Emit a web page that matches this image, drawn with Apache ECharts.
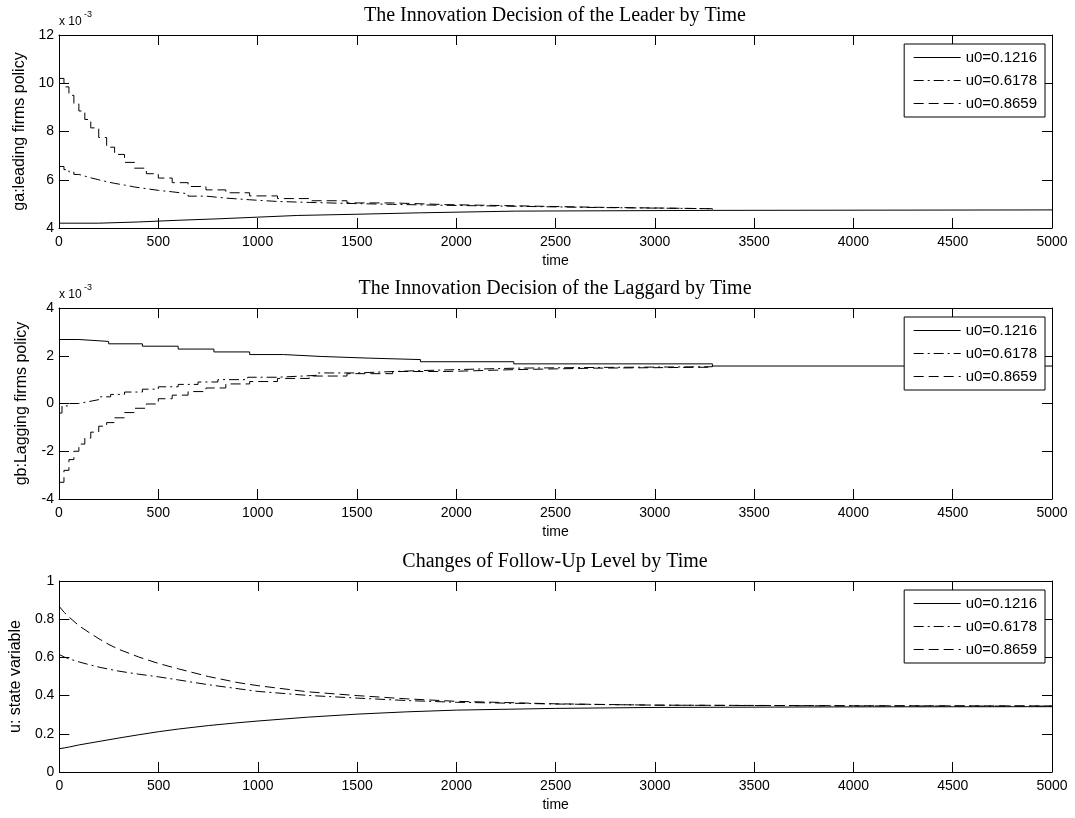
<!DOCTYPE html>
<html style="height: 100%">
  <head>
    <meta charset="utf-8" />
  </head>
  <body style="height: 100%; margin: 0; background: #fff">
    <div id="main" style="width: 1075px; height: 818px"></div>
    <script type="text/javascript" src="https://cdn.jsdelivr.net/npm/echarts@6/dist/echarts.min.js"></script>
    <script type="text/javascript">
      // legend names
      var names = ["u0=0.1216", "u0=0.6178", "u0=0.8659"];
      var titles = [
        "The Innovation Decision of the Leader by Time",
        "The Innovation Decision of the Laggard by Time",
        "Changes of Follow-Up Level by Time",
      ];
      var yNames = ["ga:leading firms policy", "gb:Lagging firms policy", "u: state variable"];

      // plot 1 : ga (x 10^-3)
      var gaT1 = [0, 200, 400, 600, 800, 1000, 1200, 1500, 1820, 2300, 3290, 5000];
      var gaV1 = [4.2, 4.25, 4.32, 4.38, 4.45, 4.52, 4.57, 4.63, 4.7, 4.73, 4.75, 4.75];
      var gaT2 = [0, 25, 50, 75, 100, 130, 160, 200, 240, 280, 330, 380, 440, 500, 570, 650, 740, 840, 960, 1100, 1260, 1450, 1680, 1950, 2300, 2700, 3290];
      var gaV2 = [6.55, 6.42, 6.32, 6.22, 6.15, 6.08, 6.0, 5.92, 5.85, 5.78, 5.7, 5.63, 5.56, 5.5, 5.42, 5.32, 5.24, 5.17, 5.1, 5.06, 5.02, 4.98, 4.94, 4.9, 4.85, 4.8, 4.76];
      var gaT3 = [0, 25, 50, 75, 100, 130, 160, 200, 240, 280, 330, 380, 440, 500, 570, 650, 740, 840, 960, 1100, 1260, 1450, 1680, 1950, 2300, 2700, 3290];
      var gaV3 = [10.2, 9.85, 9.5, 9.15, 8.85, 8.5, 8.15, 7.75, 7.35, 7.05, 6.72, 6.48, 6.25, 6.07, 5.88, 5.72, 5.58, 5.46, 5.33, 5.22, 5.13, 5.04, 4.97, 4.92, 4.86, 4.8, 4.76];

      // plot 2 : gb (x 10^-3)
      var gbT1 = [0, 100, 250, 420, 600, 780, 960, 1130, 1320, 1560, 1820, 2290, 3290, 5000];
      var gbV1 = [2.68, 2.6, 2.5, 2.4, 2.28, 2.16, 2.05, 1.97, 1.9, 1.84, 1.75, 1.66, 1.57, 1.57];
      var gbT2 = [0, 15, 50, 100, 150, 200, 260, 330, 420, 500, 600, 700, 800, 950, 1100, 1300, 1500, 1750, 2000, 2300, 2700, 3290];
      var gbV2 = [-0.4, -0.1, 0.0, 0.08, 0.16, 0.28, 0.38, 0.48, 0.6, 0.7, 0.8, 0.9, 1.0, 1.1, 1.18, 1.28, 1.36, 1.42, 1.48, 1.51, 1.54, 1.57];
      var gbT3 = [0, 25, 50, 75, 100, 130, 160, 200, 240, 280, 330, 380, 440, 500, 570, 650, 740, 840, 960, 1100, 1260, 1450, 1680, 1950, 2300, 2700, 3290];
      var gbV3 = [-3.3, -2.8, -2.35, -2.0, -1.7, -1.45, -1.2, -0.95, -0.8, -0.6, -0.38, -0.2, -0.02, 0.2, 0.35, 0.5, 0.65, 0.82, 0.92, 1.05, 1.15, 1.25, 1.34, 1.42, 1.48, 1.52, 1.57];

      // plot 3 : u
      var uT = [0, 25, 50, 100, 150, 200, 250, 300, 400, 500, 600, 750, 900, 1000, 1250, 1500, 1750, 2000, 2500, 3000, 4000, 5000];
      var uV1 = [0.122, 0.126, 0.131, 0.142, 0.151, 0.16, 0.169, 0.178, 0.195, 0.211, 0.225, 0.243, 0.258, 0.267, 0.287, 0.303, 0.315, 0.324, 0.333, 0.338, 0.341, 0.342];
      var uV2 = [0.615, 0.602, 0.592, 0.576, 0.562, 0.549, 0.538, 0.528, 0.512, 0.498, 0.482, 0.457, 0.436, 0.422, 0.401, 0.387, 0.374, 0.365, 0.356, 0.35, 0.346, 0.345];
      var uV3 = [0.866, 0.835, 0.81, 0.765, 0.73, 0.697, 0.667, 0.642, 0.602, 0.568, 0.54, 0.5, 0.468, 0.452, 0.42, 0.4, 0.383, 0.37, 0.357, 0.35, 0.347, 0.346];

      // axis ranges
      var yMin = [4, -4, 0];
      var yMax = [12, 4, 1];
      var yStep = [2, 2, 0.2];

      var dashes = ["solid", [10, 4, 2, 4], [10, 5]];
      var gridTop = [35, 308, 581];
      var gridH = [193, 191, 191];

      var font = "Liberation Sans";
      var black = "#000";

      function pairs(t, v) {
        return t.map(function (x, i) { return [x, v[i]]; });
      }

      var grids = [], xAxes = [], yAxes = [], series = [], legends = [], graphics = [];
      for (var g = 0; g < 3; g++) {
        grids.push({ left: 59, right: 23, top: gridTop[g], height: gridH[g], show: false });
        // bottom + top x axes (Matlab box)
        xAxes.push({
          type: "value", gridIndex: g, min: 0, max: 5000, interval: 500,
          axisLine: { show: true, onZero: false, lineStyle: { color: black, width: 1 } },
          axisTick: { inside: true, length: 10, lineStyle: { color: black } },
          axisLabel: {
            color: black, fontFamily: font, fontSize: 14, margin: 7,
            formatter: function (v) { return String(v); },
          },
          splitLine: { show: false },
          name: "time", nameLocation: "middle", nameGap: 26,
          nameTextStyle: { color: black, fontFamily: font, fontSize: 14 },
        });
        xAxes.push({
          type: "value", gridIndex: g, position: "top", min: 0, max: 5000, interval: 500,
          axisLine: { show: true, onZero: false, lineStyle: { color: black, width: 1 } },
          axisTick: { inside: true, length: 10, lineStyle: { color: black } },
          axisLabel: { show: false }, splitLine: { show: false },
        });
        yAxes.push({
          type: "value", gridIndex: g, min: yMin[g], max: yMax[g], interval: yStep[g],
          axisLine: { show: true, onZero: false, lineStyle: { color: black, width: 1 } },
          axisTick: { inside: true, length: 10, lineStyle: { color: black } },
          axisLabel: { color: black, fontFamily: font, fontSize: 14, margin: 5 },
          splitLine: { show: false },
          name: yNames[g], nameLocation: "middle", nameGap: 29,
          nameTextStyle: { color: black, fontFamily: font, fontSize: 16 },
        });
        yAxes.push({
          type: "value", gridIndex: g, position: "right", min: yMin[g], max: yMax[g], interval: yStep[g],
          axisLine: { show: true, onZero: false, lineStyle: { color: black, width: 1 } },
          axisTick: { inside: true, length: 10, lineStyle: { color: black } },
          axisLabel: { show: false }, splitLine: { show: false },
        });
        legends.push({
          data: names, orient: "vertical", right: 30, top: gridTop[g] + 9,
          backgroundColor: "#fff", borderColor: black, borderWidth: 1,
          padding: [6, 8, 6, 9], itemWidth: 47, itemHeight: 14, itemGap: 8,
          itemStyle: { color: "rgba(0,0,0,0)", borderWidth: 0 },
          lineStyle: { width: 1 },
          textStyle: { color: black, fontFamily: font, fontSize: 15, lineHeight: 15 },
          selectedMode: false,
        });
        // title
        graphics.push({
          type: "text", x: 555, y: gridTop[g] - 29,
          style: { text: titles[g], font: "20px 'Liberation Serif'", fill: black, align: "center", verticalAlign: "top" },
        });
      }
      // x 10^-3 labels on plots 1 and 2
      [0, 1].forEach(function (g) {
        graphics.push({ type: "text", left: 59, top: gridTop[g] - 19, style: { text: "x 10", font: "12px 'Liberation Sans'", fill: black } });
        graphics.push({ type: "text", left: 84, top: gridTop[g] - 25, style: { text: "-3", font: "9px 'Liberation Sans'", fill: black } });
      });

      var data = [
        [pairs(gaT1, gaV1), pairs(gaT2, gaV2), pairs(gaT3, gaV3)],
        [pairs(gbT1, gbV1), pairs(gbT2, gbV2), pairs(gbT3, gbV3)],
        [pairs(uT, uV1), pairs(uT, uV2), pairs(uT, uV3)],
      ];
      for (var g = 0; g < 3; g++) {
        for (var s = 0; s < 3; s++) {
          series.push({
            name: names[s], type: "line", xAxisIndex: g * 2, yAxisIndex: g * 2,
            data: data[g][s], symbol: "none", step: g < 2 ? "end" : false,
            smooth: false, animation: false, z: 3 - s,
            lineStyle: { color: black, width: 1, type: dashes[s] },
            itemStyle: { color: black },
          });
        }
      }

      var chart = echarts.init(document.getElementById("main"));
      chart.setOption({
        backgroundColor: "#fff",
        animation: false,
        grid: grids,
        xAxis: xAxes,
        yAxis: yAxes,
        legend: legends,
        graphic: graphics,
        series: series,
      });
    </script>
  </body>
</html>
